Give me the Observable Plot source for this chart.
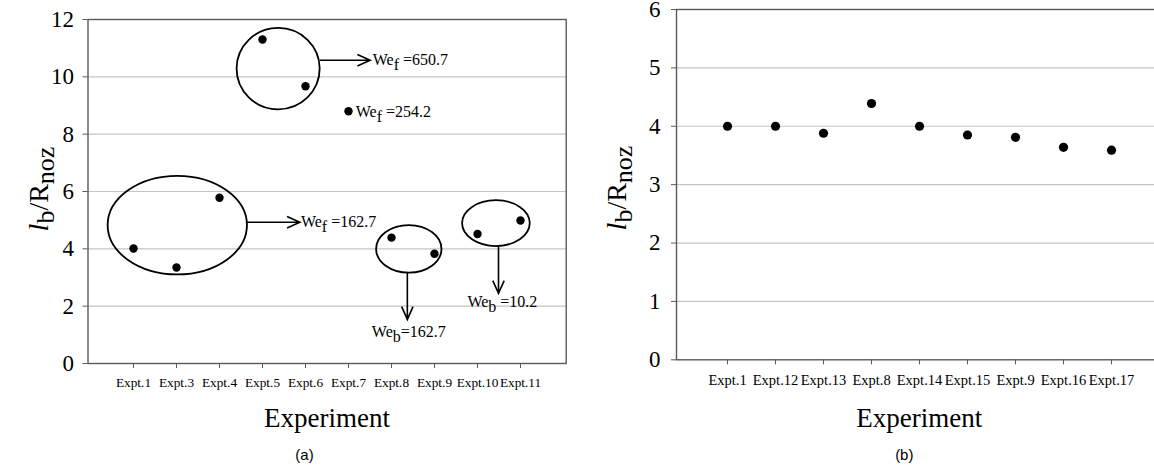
<!DOCTYPE html>
<html>
<head>
<meta charset="utf-8">
<script src="https://cdn.jsdelivr.net/npm/d3@7"></script>
<script src="https://cdn.jsdelivr.net/npm/@observablehq/plot@0.6"></script>
<style>
  html, body { margin: 0; padding: 0; background: white; }
  #fig { position: relative; width: 1154px; height: 468px; overflow: hidden; background: white; }
  #fig svg { position: absolute; top: 0; }
</style>
</head>
<body>
<div id="fig"></div>
<script>
// ---- Data ----
const catsA = ["Expt.1","Expt.3","Expt.4","Expt.5","Expt.6","Expt.7","Expt.8","Expt.9","Expt.10","Expt.11"];
const valsA = [4.01, 3.35, 5.78, 11.30, 9.67, 8.80, 4.39, 3.83, 4.52, 4.99];
const catsB = ["Expt.1","Expt.12","Expt.13","Expt.8","Expt.14","Expt.15","Expt.9","Expt.16","Expt.17"];
const valsB = [4.00, 4.00, 3.88, 4.39, 4.00, 3.85, 3.81, 3.64, 3.59];
const yTicksA = [0, 2, 4, 6, 8, 10, 12];
const yTicksB = [0, 1, 2, 3, 4, 5, 6];

// ---- Annotations of panel (a) (category anchor, offset in category steps, value) ----
const ellipsesA = [
  {at: "Expt.5", shift: 0.375, y: 10.27, rx: 0.966, ry: 1.42},
  {at: "Expt.3", shift: 0.03, y: 4.81, rx: 1.62, ry: 1.72},
  {at: "Expt.8", shift: 0.414, y: 3.98, rx: 0.76, ry: 0.83},
  {at: "Expt.10", shift: 0.44, y: 4.88, rx: 0.787, ry: 0.80}
];
const arrowsA = [
  {from: ["Expt.6", 0.345, 10.56], to: ["Expt.7", 0.515, 10.56]},
  {from: ["Expt.3", 1.65, 4.91], to: ["Expt.5", 0.88, 4.91]},
  {from: ["Expt.8", 0.38, 3.15], to: ["Expt.8", 0.38, 1.52]},
  {from: ["Expt.10", 0.5, 4.08], to: ["Expt.10", 0.5, 2.43]}
];
const labelsA = [
  {at: "Expt.7", shift: 0.575, y: 10.39, anchor: "start", main: "We", sub: "f", rest: " =650.7"},
  {at: "Expt.7", shift: 0.18, y: 8.57, anchor: "start", main: "We", sub: "f", rest: " =254.2"},
  {at: "Expt.5", shift: 0.905, y: 4.75, anchor: "start", main: "We", sub: "f", rest: " =162.7"},
  {at: "Expt.8", shift: 0.414, y: 0.92, anchor: "middle", main: "We", sub: "b", rest: "=162.7"},
  {at: "Expt.10", shift: 0.59, y: 1.95, anchor: "middle", main: "We", sub: "b", rest: " =10.2"}
];

const SERIF = "'Liberation Serif', 'Times New Roman', Times, serif";
const SANS = "'Liberation Sans', Arial, Helvetica, sans-serif";

const dataA = catsA.map((c, i) => ({expt: c, value: valsA[i]}));
const dataB = catsB.map((c, i) => ({expt: c, value: valsB[i]}));

function annotationMark(cats, ellipses, arrows, labels) {
  return (index, scales) => {
    const x = scales.x, y = scales.y;
    const step = x(cats[1]) - x(cats[0]);
    const px = (c, s) => x(c) + s * step;
    const g = d3.create("svg:g").attr("fill", "none").attr("stroke", "black");
    for (const e of ellipses) {
      g.append("ellipse")
        .attr("cx", px(e.at, e.shift)).attr("cy", y(e.y))
        .attr("rx", e.rx * step).attr("ry", Math.abs(y(e.y + e.ry) - y(e.y)))
        .attr("stroke-width", 1.8);
    }
    for (const a of arrows) {
      const x1 = px(a.from[0], a.from[1]), y1 = y(a.from[2]);
      const x2 = px(a.to[0], a.to[1]), y2 = y(a.to[2]);
      const ang = Math.atan2(y2 - y1, x2 - x1);
      const L = 14, W = 0.42;
      const h1 = [x2 - L * Math.cos(ang - W), y2 - L * Math.sin(ang - W)];
      const h2 = [x2 - L * Math.cos(ang + W), y2 - L * Math.sin(ang + W)];
      g.append("path")
        .attr("d", `M${x1},${y1}L${x2},${y2}M${h1[0]},${h1[1]}L${x2},${y2}L${h2[0]},${h2[1]}`)
        .attr("stroke-width", 1.6);
    }
    for (const l of labels) {
      const t = g.append("text")
        .attr("x", px(l.at, l.shift)).attr("y", y(l.y))
        .attr("text-anchor", l.anchor)
        .attr("fill", "black").attr("stroke", "none")
        .attr("font-family", SERIF).attr("font-size", 16);
      t.append("tspan").text(l.main);
      t.append("tspan").attr("dy", 5).text(l.sub);
      t.append("tspan").attr("dy", -5).text(l.rest);
    }
    return g.node();
  };
}

function yLabelMark(xPos, yPos) {
  return () => {
    const t = d3.create("svg:text")
      .attr("transform", `translate(${xPos},${yPos}) rotate(-90)`)
      .attr("text-anchor", "middle")
      .attr("font-family", SERIF)
      .attr("font-size", 28)
      .attr("fill", "black");
    t.append("tspan").attr("font-style", "italic").text("l");
    t.append("tspan").attr("dy", 6).attr("font-size", 26).text("b");
    t.append("tspan").attr("dy", -6).text("/R");
    t.append("tspan").attr("dy", 6).attr("font-size", 26).text("noz");
    return t.node();
  };
}

const AXIS = "#5a5a5a", GRID = "#c4c4c4";
const blank = () => "";

const chartA = Plot.plot({
  width: 577, height: 468,
  marginLeft: 87.5, marginRight: 11.3, marginTop: 19, marginBottom: 105,
  x: {type: "point", domain: catsA, padding: 1},
  y: {domain: [0, 12]},
  style: {fontFamily: SERIF, background: "white", color: "black", overflow: "visible"},
  marks: [
    Plot.ruleY(yTicksA.filter(d => d > 0 && d < 12), {stroke: GRID, strokeWidth: 1.2}),
    Plot.frame({stroke: AXIS, strokeWidth: 1.4}),
    Plot.axisY({ticks: yTicksA, tickFormat: blank, tickSize: 5, label: null, stroke: AXIS}),
    Plot.text(yTicksA, {y: d => d, text: d => String(d), frameAnchor: "left", textAnchor: "end", dx: -14, fontSize: 23, fontFamily: SERIF, fill: "black"}),
    Plot.axisX({tickSize: 5, tickPadding: 9.5, fontSize: 13.3, fontFamily: SERIF, label: null, stroke: AXIS, fill: "black"}),
    Plot.dot(dataA, {x: "expt", y: "value", r: 4.2, fill: "black", stroke: null}),
    annotationMark(catsA, ellipsesA, arrowsA, labelsA),
    Plot.text(["Experiment"], {text: d => d, frameAnchor: "bottom", lineAnchor: "bottom", dy: 63.7, fontSize: 27, fontFamily: SERIF, fill: "black"}),
    Plot.text(["(a)"], {text: d => d, frameAnchor: "bottom", lineAnchor: "middle", dx: -22.6, dy: 92, fontSize: 15, fontFamily: SANS, fill: "black"}),
    yLabelMark(48, 189)
  ]
});
chartA.style.left = "0px";

const chartB = Plot.plot({
  width: 586, height: 468,
  marginLeft: 99, marginRight: 1.4, marginTop: 9, marginBottom: 108.7,
  x: {type: "point", domain: catsB, padding: 1},
  y: {domain: [0, 6]},
  style: {fontFamily: SERIF, background: "white", color: "black", overflow: "visible"},
  marks: [
    Plot.ruleY(yTicksB.filter(d => d > 0 && d < 6), {stroke: GRID, strokeWidth: 1.2}),
    Plot.frame({stroke: AXIS, strokeWidth: 1.4}),
    Plot.axisY({ticks: yTicksB, tickFormat: blank, tickSize: 5, label: null, stroke: AXIS}),
    Plot.text(yTicksB, {y: d => d, text: d => String(d), frameAnchor: "left", textAnchor: "end", dx: -16, fontSize: 23, fontFamily: SERIF, fill: "black"}),
    Plot.axisX({tickSize: 5, tickPadding: 9.5, fontSize: 14.5, fontFamily: SERIF, label: null, stroke: AXIS, fill: "black"}),
    Plot.dot(dataB, {x: "expt", y: "value", r: 4.6, fill: "black", stroke: null}),
    Plot.text(["Experiment"], {text: d => d, frameAnchor: "bottom", lineAnchor: "bottom", dy: 67.4, fontSize: 27, fontFamily: SERIF, fill: "black"}),
    Plot.text(["(b)"], {text: d => d, frameAnchor: "bottom", lineAnchor: "middle", dx: -15, dy: 95.7, fontSize: 15, fontFamily: SANS, fill: "black"}),
    yLabelMark(49, 188)
  ]
});
chartB.style.left = "577px";

const fig = document.getElementById("fig");
fig.appendChild(chartA);
fig.appendChild(chartB);
</script>
</body>
</html>
